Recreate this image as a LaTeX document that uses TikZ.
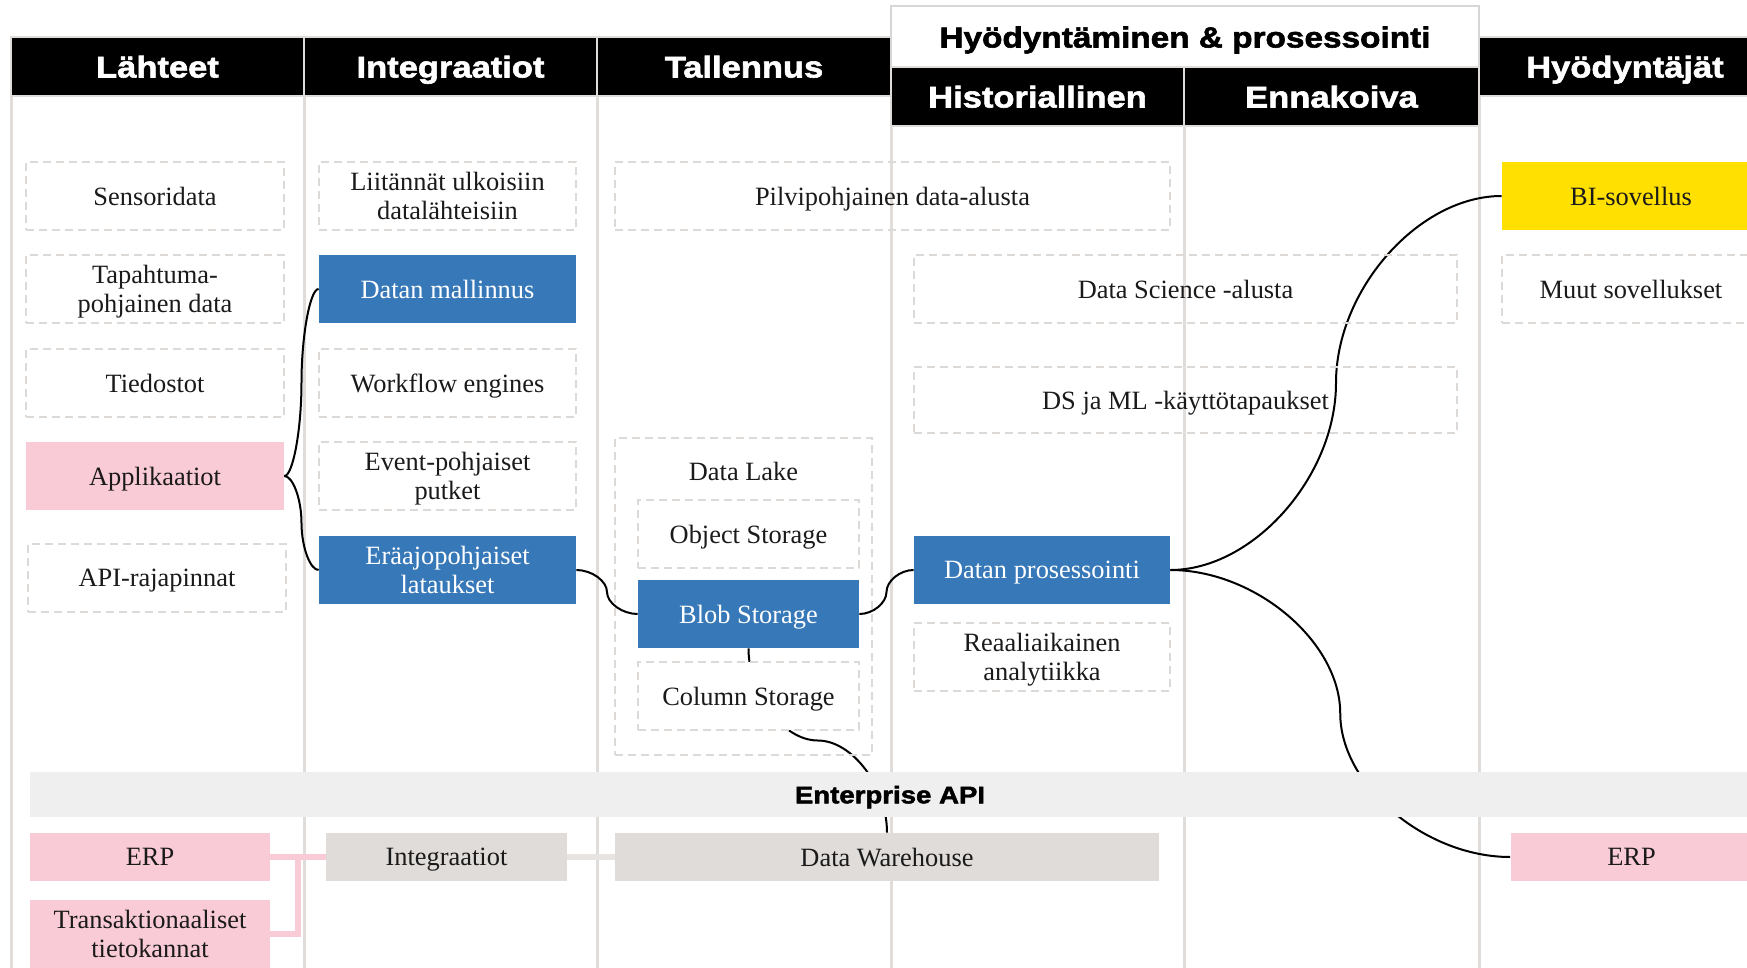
\documentclass[tikz,border=0pt]{standalone}
\usepackage{fontspec}
\setmainfont{Liberation Serif}
\newfontfamily\blackfont{Liberation Sans}[BoldFeatures={FakeBold=2,FakeStretch=1.15}]
\usetikzlibrary{calc}

\definecolor{colline}{HTML}{E0DCD9}
\definecolor{dashgray}{HTML}{DDD9D6}
\definecolor{titlegray}{HTML}{D6D6D6}
\definecolor{boxblue}{HTML}{3778B8}
\definecolor{boxpink}{HTML}{F9CBD6}
\definecolor{boxyellow}{HTML}{FFE000}
\definecolor{bandgray}{HTML}{EFEFEF}
\definecolor{whgray}{HTML}{E0DCD9}
\definecolor{linkgray}{HTML}{E8E4E1}
\definecolor{txt}{HTML}{1A1A1A}

\pgfdeclarelayer{lines}
\pgfdeclarelayer{links}
\pgfsetlayers{lines,links,main}

\tikzset{
  base/.style={rectangle, inner sep=0pt, align=center, text=txt, text depth=0pt,
    font=\fontsize{13.2}{14.5}\selectfont},
  sz/.style 2 args={minimum width=#1, minimum height=#2},
  dbox/.style={base, draw=dashgray, line width=1pt, dash pattern=on 4pt off 2.5pt},
  wbox/.style={dbox, fill=white},
  bbox/.style={base, fill=boxblue, text=white},
  pbox/.style={base, fill=boxpink},
  ybox/.style={base, fill=boxyellow},
  gbox/.style={base, fill=whgray},
  head/.style={rectangle, inner sep=0pt, fill=black, draw=colline, line width=1pt,
    text=white, text height=11pt, text depth=0pt,
    font=\blackfont\bfseries\fontsize{15}{18}\selectfont},
  titlebox/.style={head, fill=white, draw=titlegray, text=black,
    font=\blackfont\bfseries\fontsize{14.5}{18}\selectfont},
  bandbox/.style={rectangle, inner sep=0pt, fill=bandgray, text=black,
    text height=8.8pt, text depth=0pt,
    font=\blackfont\bfseries\fontsize{12}{14}\selectfont},
  colrule/.style={colline, line width=1.5pt},
  link/.style={black, line width=1pt},
  pinklink/.style={boxpink, line width=3pt},
  graylink/.style={linkgray, line width=3pt},
  % curved elbow: horizontal at both ends, vertical at the midpoint
  hcurve/.style={to path={let \p1=(\tikztostart), \p2=(\tikztotarget) in
    .. controls ({(3*\x1+\x2)/4},\y1) and ({(\x1+\x2)/2},{(3*\y1+\y2)/4})
    .. ({(\x1+\x2)/2},{(\y1+\y2)/2})
    .. controls ({(\x1+\x2)/2},{(\y1+3*\y2)/4}) and ({(\x1+3*\x2)/4},\y2)
    .. (\tikztotarget)}},
  % curved elbow: vertical at both ends, horizontal at the midpoint
  vcurve/.style={to path={let \p1=(\tikztostart), \p2=(\tikztotarget) in
    .. controls (\x1,{(3*\y1+\y2)/4}) and ({(3*\x1+\x2)/4},{(\y1+\y2)/2})
    .. ({(\x1+\x2)/2},{(\y1+\y2)/2})
    .. controls ({(\x1+3*\x2)/4},{(\y1+\y2)/2}) and (\x2,{(\y1+3*\y2)/4})
    .. (\tikztotarget)}},
}

\begin{document}
\begin{tikzpicture}[x=0.5pt, y=-0.5pt]
\useasboundingbox (0,0) rectangle (1747,968);

% column rules
\begin{pgfonlayer}{lines}
  \foreach \cx in {11,304,597,891,1184,1479}
    \draw[colrule] (\cx,40) -- (\cx,968);
\end{pgfonlayer}

% header row
\node[head, sz={146.5pt}{29.5pt}] (hL) at (157.5,66.5) {Lähteet};
\node[head, sz={146.5pt}{29.5pt}] (hI) at (450.5,66.5) {Integraatiot};
\node[head, sz={147pt}{29.5pt}] (hT) at (744,66.5) {Tallennus};
\node[head, sz={146pt}{29.5pt}] (hU) at (1625,66.5) {Hyödyntäjät};
\node[titlebox, sz={294pt}{30.5pt}] (hP) at (1185,36.5) {Hyödyntäminen \& prosessointi};
\node[head, sz={146.5pt}{29.5pt}] (hH) at (1037.5,96.5) {Historiallinen};
\node[head, sz={147.5pt}{29.5pt}] (hE) at (1331.5,96.5) {Ennakoiva};

% Lähteet
\node[dbox, sz={129pt}{34pt}] (sens) at (155,196) {Sensoridata};
\node[dbox, sz={129pt}{34pt}] (tap) at (155,289) {Tapahtuma-\\pohjainen data};
\node[dbox, sz={129pt}{34pt}] (tied) at (155,383) {Tiedostot};
\node[pbox, sz={129pt}{34pt}] (appl) at (155,476) {Applikaatiot};
\node[dbox, sz={129pt}{34pt}] (api) at (157,578) {API-rajapinnat};

% Integraatiot
\node[dbox, sz={128.5pt}{34pt}] (liit) at (447.5,196) {Liitännät ulkoisiin\\datalähteisiin};
\node[bbox, sz={128.5pt}{34pt}] (malli) at (447.5,289) {Datan mallinnus};
\node[dbox, sz={128.5pt}{34pt}] (work) at (447.5,383) {Workflow engines};
\node[dbox, sz={128.5pt}{34pt}] (event) at (447.5,476) {Event-pohjaiset\\putket};
\node[bbox, sz={128.5pt}{34pt}] (erajo) at (447.5,570) {Eräajopohjaiset\\lataukset};

% Tallennus
\node[dbox, sz={277.5pt}{34pt}] (pilvi) at (892.5,196) {Pilvipohjainen data-alusta};
\node[dbox, sz={128.5pt}{158.5pt}] (dlake) at (743.5,596.5) {};
\node[base] (dlabel) at ($(dlake.north)+(0,34)$) {Data Lake};
\node[wbox, sz={110.5pt}{34pt}] (obj) at (748.5,534) {Object Storage};
\node[bbox, sz={110.5pt}{34pt}] (blob) at (748.5,614) {Blob Storage};
\node[wbox, sz={110.5pt}{34pt}] (col) at (748.5,696) {Column Storage};

% Hyödyntäminen & prosessointi
\node[dbox, sz={271.5pt}{34pt}] (dsci) at (1185.5,289) {Data Science -alusta};
\node[dbox, sz={271.5pt}{33pt}] (dsml) at (1185.5,400) {DS ja ML -käyttötapaukset};
\node[bbox, sz={128pt}{34pt}] (proc) at (1042,570) {Datan prosessointi};
\node[dbox, sz={128pt}{34pt}] (reaal) at (1042,657) {Reaaliaikainen\\analytiikka};

% Hyödyntäjät
\node[ybox, sz={129pt}{34pt}] (bi) at (1631,196) {BI-sovellus};
\node[dbox, sz={129pt}{34pt}] (muut) at (1631,289) {Muut sovellukset};

% Enterprise API band and the systems below it
\node[bandbox, sz={860pt}{22.5pt}] (band) at (890,794.5) {Enterprise API};
\node[pbox, sz={120pt}{24pt}] (erpL) at (150,857) {ERP};
\node[pbox, sz={120pt}{34pt}] (trans) at (150,934) {Transaktionaaliset\\tietokannat};
\node[gbox, sz={120.5pt}{24pt}] (intB) at (446.5,857) {Integraatiot};
\node[gbox, sz={272pt}{24pt}] (dw) at (887,857) {Data Warehouse};
\node[pbox, sz={121pt}{24pt}] (erpR) at (1631.5,857) {ERP};

\coordinate (pinkjoin) at ($(erpL.east)!0.5!(intB.west)$);

% connectors
\begin{pgfonlayer}{links}
  \draw[link] (appl.east) to[hcurve] (malli.west);
  \draw[link] (appl.east) to[hcurve] (erajo.west);
  \draw[link] (erajo.east) to[hcurve] (blob.west);
  \draw[link] (blob.east) to[hcurve] (proc.west);
  \draw[link] (blob.south) to[vcurve] (dw.north);
  \draw[link] (proc.east) to[hcurve] (bi.west);
  \draw[link] (proc.east) to[hcurve] (erpR.west);
  \draw[pinklink] (erpL.east) -- (intB.west);
  \draw[pinklink] (trans.east) -| (pinkjoin);
  \draw[graylink] (intB.east) -- (dw.west);
\end{pgfonlayer}
\end{tikzpicture}
\end{document}
